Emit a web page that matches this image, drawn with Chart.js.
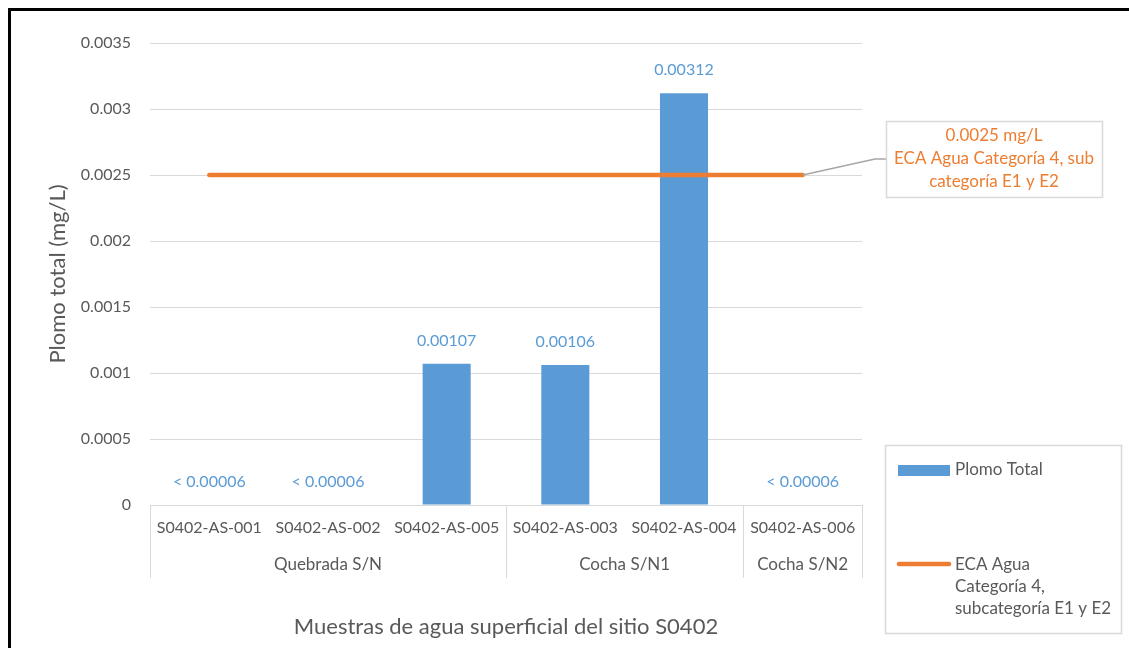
<!DOCTYPE html>
<html>
<head>
<meta charset="utf-8">
<script src="https://cdn.jsdelivr.net/npm/chart.js@4.4.1/dist/chart.umd.min.js"></script>
<style>
  html, body { margin: 0; padding: 0; background: #fff; }
  #wrap { position: relative; width: 1129px; height: 648px; }
</style>
</head>
<body>
<div id="wrap"><canvas id="c" width="1129" height="648"></canvas></div>
<script>
// ---- data ----
const sampleLabels = ["S0402-AS-001", "S0402-AS-002", "S0402-AS-005", "S0402-AS-003", "S0402-AS-004", "S0402-AS-006"];
const groupNames = ["Quebrada S/N", "Cocha S/N1", "Cocha S/N2"];
const groupSizes = [3, 2, 1];
const plomoValues = [0, 0, 0.00107, 0.00106, 0.00312, 0];
const plomoLabels = ["< 0.00006", "< 0.00006", "0.00107", "0.00106", "0.00312", "< 0.00006"];
const ecaValues = [0.0025, 0.0025, 0.0025, 0.0025, 0.0025, 0.0025];
const yTicks = [0, 0.0005, 0.001, 0.0015, 0.002, 0.0025, 0.003, 0.0035];
const barSeriesName = "Plomo Total";
const lineSeriesName = ["ECA Agua", "Categoría 4,", "subcategoría E1 y E2"];
const calloutLines = ["0.0025 mg/L", "ECA Agua Categoría 4, sub", "categoría E1 y E2"];
const yTitle = "Plomo total (mg/L)";
const xTitle = "Muestras de agua superficial del sitio S0402";

const FONT = "Lato, 'Open Sans', sans-serif";
const GREY = "#595959";
const GRID = "#D9D9D9";
const BLUE = "#5B9BD5";
const ORANGE = "#ED7D31";

const extras = {
  id: "extras",
  beforeDraw(chart) {
    const ctx = chart.ctx;
    ctx.save();
    ctx.fillStyle = "#fff";
    ctx.fillRect(0, 0, chart.width, chart.height);
    ctx.restore();
  },
  afterDraw(chart) {
    const ctx = chart.ctx;
    const xs = chart.scales.x;
    const area = chart.chartArea;
    ctx.save();
    // outer frame (top & left)
    ctx.fillStyle = "#000";
    ctx.fillRect(8, 8, chart.width - 8, 3);
    ctx.fillRect(8, 8, 3, chart.height - 8);

    // group separators and labels
    const step = (xs.getPixelForValue(1) - xs.getPixelForValue(0));
    ctx.strokeStyle = GRID;
    ctx.lineWidth = 1;
    ctx.font = "17px " + FONT;
    ctx.fillStyle = GREY;
    ctx.textAlign = "center";
    ctx.textBaseline = "middle";
    let idx = 0;
    const bounds = [];
    groupSizes.forEach((n, g) => {
      const left = xs.getPixelForValue(idx) - step / 2;
      const right = xs.getPixelForValue(idx + n - 1) + step / 2;
      bounds.push(left);
      if (g === groupSizes.length - 1) bounds.push(right);
      ctx.fillText(groupNames[g], (left + right) / 2, 565);
      idx += n;
    });
    bounds.forEach(b => {
      const x = Math.round(b) + 0.5;
      ctx.beginPath();
      ctx.moveTo(x, area.bottom);
      ctx.lineTo(x, 578);
      ctx.stroke();
    });

    // data labels
    ctx.font = "16px " + FONT;
    const barMeta = chart.getDatasetMeta(1);
    ctx.fillStyle = BLUE;
    barMeta.data.forEach((el, i) => {
      ctx.fillText(plomoLabels[i], el.x, el.y - 23);
    });

    // callout
    const lineMeta = chart.getDatasetMeta(0);
    const last = lineMeta.data[lineMeta.data.length - 1];
    ctx.strokeStyle = "#A6A6A6";
    ctx.lineWidth = 1.5;
    ctx.beginPath();
    ctx.moveTo(last.x, last.y);
    ctx.lineTo(875, 159);
    ctx.lineTo(886, 159);
    ctx.stroke();
    ctx.strokeStyle = GRID;
    ctx.lineWidth = 1.5;
    ctx.strokeRect(886.5, 121.5, 216, 76);
    ctx.font = "17px " + FONT;
    ctx.fillStyle = ORANGE;
    calloutLines.forEach((t, i) => ctx.fillText(t, 994, 136 + i * 23));

    // legend
    ctx.strokeStyle = GRID;
    ctx.lineWidth = 1.5;
    ctx.strokeRect(885.5, 445.5, 236, 188);
    ctx.fillStyle = BLUE;
    ctx.fillRect(898, 465, 52, 11);
    ctx.textAlign = "left";
    ctx.fillStyle = GREY;
    ctx.fillText(barSeriesName, 955, 470);
    ctx.strokeStyle = ORANGE;
    ctx.lineWidth = 4.5;
    ctx.lineCap = "round";
    ctx.beginPath();
    ctx.moveTo(899, 564);
    ctx.lineTo(949, 564);
    ctx.stroke();
    lineSeriesName.forEach((t, i) => ctx.fillText(t, 955, 565 + i * 22));
    ctx.restore();
  }
};

new Chart(document.getElementById("c"), {
  type: "bar",
  data: {
    labels: sampleLabels,
    datasets: [
      {
        type: "line",
        label: lineSeriesName.join(" "),
        data: ecaValues,
        borderColor: ORANGE,
        backgroundColor: ORANGE,
        borderWidth: 4.5,
        borderCapStyle: "round",
        pointRadius: 0,
        pointHoverRadius: 0,
        fill: false,
        order: 0
      },
      {
        type: "bar",
        label: barSeriesName,
        data: plomoValues,
        backgroundColor: BLUE,
        borderWidth: 0,
        categoryPercentage: 1,
        barPercentage: 0.405,
        order: 1
      }
    ]
  },
  options: {
    responsive: false,
    animation: false,
    events: [],
    layout: { padding: { left: 41, right: 267, top: 43, bottom: 4 } },
    plugins: { legend: { display: false }, tooltip: { enabled: false } },
    scales: {
      x: {
        grid: { display: false, drawTicks: false },
        border: { display: false },
        ticks: { color: GREY, font: { family: FONT, size: 16 }, padding: 13, maxRotation: 0, autoSkip: false },
        title: { display: true, text: xTitle, color: GREY, font: { family: FONT, size: 22 }, padding: { top: 4, bottom: 4 } },
        afterFit(s) { s.height = 139; }
      },
      y: {
        min: 0,
        max: 0.0035,
        afterBuildTicks(s) { s.ticks = yTicks.map(v => ({ value: v })); },
        grid: { color: GRID, lineWidth: 1, drawTicks: false },
        border: { display: false },
        ticks: {
          color: GREY,
          font: { family: FONT, size: 16 },
          padding: 19,
          callback: v => String(parseFloat(Number(v).toFixed(4)))
        },
        title: { display: true, text: yTitle, color: GREY, font: { family: FONT, size: 22 }, padding: { top: 4, bottom: 4 } },
        afterFit(s) { s.width = 109; }
      }
    }
  },
  plugins: [extras]
});
</script>
</body>
</html>
